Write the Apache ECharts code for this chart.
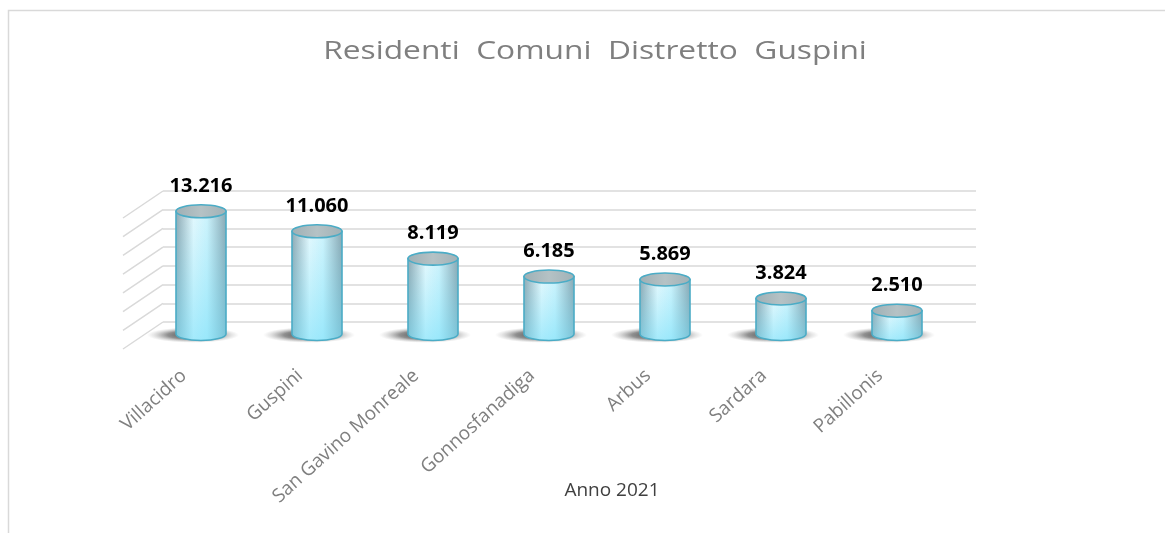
<!DOCTYPE html>
<html>
<head>
<meta charset="utf-8">
<script src="https://cdn.jsdelivr.net/npm/echarts@6/dist/echarts.min.js"></script>
<style>
  html, body { margin: 0; padding: 0; background: #fff; }
  #chart { width: 1165px; height: 533px; }
</style>
</head>
<body>
<div id="chart"></div>
<script>
const comuni = ['Villacidro', 'Guspini', 'San Gavino Monreale', 'Gonnosfanadiga', 'Arbus', 'Sardara', 'Pabillonis']
const residenti = [13216, 11060, 8119, 6185, 5869, 3824, 2510]
const yMax = 14000
const yStep = 2000

const chart = echarts.init(document.getElementById('chart'))

// numero con punto come separatore delle migliaia
const fmt = (v) => String(v).replace(/\B(?=(\d{3})+(?!\d))/g, '.')

const ellipsePath = (cx, cy, rx, ry) =>
  `M${cx - rx},${cy} A${rx},${ry} 0 1,0 ${cx + rx},${cy} A${rx},${ry} 0 1,0 ${cx - rx},${cy} Z`

const RX = 25
const RY = 6.5

const renderCylinder = (params, api) => {
  const base = api.coord([api.value(0), 0])
  const top = api.coord([api.value(0), api.value(1)])
  const cx = top[0]
  const by = base[1]
  const ty = top[1]
  const body = `M${cx - RX},${ty} L${cx - RX},${by} A${RX},${RY} 0 0,0 ${cx + RX},${by} L${cx + RX},${ty} Z`

  return {
    type: 'group',
    children: [
      {
        // ombra: cerchio schiacciato in verticale
        type: 'circle',
        shape: { cx: 0, cy: 0, r: 46 },
        x: cx - 8,
        y: by + 1,
        scaleY: 0.17,
        style: {
          fill: new echarts.graphic.RadialGradient(0.5, 0.5, 0.5, [
            { offset: 0, color: 'rgba(40, 40, 40, 0.9)' },
            { offset: 0.55, color: 'rgba(70, 70, 70, 0.6)' },
            { offset: 0.8, color: 'rgba(110, 110, 110, 0.25)' },
            { offset: 1, color: 'rgba(150, 150, 150, 0)' }
          ])
        }
      },
      {
        type: 'path',
        shape: { pathData: body },
        style: {
          fill: new echarts.graphic.LinearGradient(0, 0, 1, 0, [
            { offset: 0, color: '#8fa9b3' },
            { offset: 0.35, color: '#e3f8fd' },
            { offset: 0.62, color: '#cdf3fc' },
            { offset: 1, color: '#8aa7b2' }
          ])
        }
      },
      {
        type: 'path',
        shape: { pathData: body },
        style: {
          fill: new echarts.graphic.LinearGradient(0, 0, 0, 1, [
            { offset: 0, color: 'rgba(120, 225, 250, 0)' },
            { offset: 1, color: 'rgba(110, 222, 250, 0.55)' }
          ]),
          stroke: '#4bacc6',
          lineWidth: 1.6
        }
      },
      {
        type: 'path',
        shape: { pathData: ellipsePath(cx, ty, RX, RY) },
        style: {
          fill: new echarts.graphic.LinearGradient(0, 0, 1, 0, [
            { offset: 0, color: '#9eafb4' },
            { offset: 0.5, color: '#b5c2c5' },
            { offset: 1, color: '#a0b1b6' }
          ]),
          stroke: '#4bacc6',
          lineWidth: 1.6
        }
      },
      {
        type: 'text',
        x: cx,
        y: ty - 25,
        style: {
          text: fmt(api.value(1)),
          align: 'center',
          verticalAlign: 'middle',
          fontFamily: 'Open Sans',
          fontSize: 20,
          fontWeight: 'bold',
          fill: '#000'
        }
      }
    ]
  }
}

const option = {
  animation: false,
  grid: [
    { left: 163, right: 189, top: 191, bottom: 211 },
    { left: 143, right: 210, top: 204, bottom: 199 },
    { left: 126, right: 227, top: 204, bottom: 183 }
  ],
  xAxis: [
    { gridIndex: 0, type: 'category', data: comuni, show: false },
    { gridIndex: 1, type: 'category', data: comuni, show: false },
    {
      gridIndex: 2,
      type: 'category',
      data: comuni,
      axisLine: { show: false },
      axisTick: { show: false },
      axisLabel: {
        interval: 0,
        rotate: 42,
        margin: 23,
        fontFamily: 'Open Sans',
        fontSize: 19,
        color: '#7f7f7f'
      }
    }
  ],
  yAxis: [
    {
      gridIndex: 0,
      min: 0,
      max: yMax,
      interval: yStep,
      axisLine: { show: false },
      axisTick: { show: false },
      axisLabel: { show: false },
      splitLine: { lineStyle: { color: '#d9d9d9', width: 1.5 } }
    },
    { gridIndex: 1, min: 0, max: yMax, show: false, splitLine: { show: false } },
    { gridIndex: 2, min: 0, max: yMax, show: false, splitLine: { show: false } }
  ],
  series: [
    {
      type: 'custom',
      name: 'Residenti',
      xAxisIndex: 1,
      yAxisIndex: 1,
      data: residenti.map((v, i) => [i, v]),
      encode: { x: 0, y: 1 },
      renderItem: renderCylinder
    }
  ]
}

chart.setOption(option)

// parete laterale: linee oblique che partono dalle linee della griglia
const wallX = 163
const extra = []
for (let v = 0; v <= yMax; v += yStep) {
  const y = chart.convertToPixel({ yAxisIndex: 0 }, v)
  extra.push({
    type: 'line',
    shape: { x1: wallX, y1: y, x2: wallX - 40, y2: y + 27 },
    style: { stroke: '#d9d9d9', lineWidth: 1.5 },
    silent: true
  })
}
extra.push(
  {
    type: 'rect',
    shape: { x: 8.5, y: 10.5, width: 1400, height: 800 },
    style: { fill: 'none', stroke: '#d9d9d9', lineWidth: 1.5 },
    silent: true
  },
  {
    type: 'text',
    x: 595,
    y: 52,
    scaleX: 1.22,
    style: {
      text: 'Residenti  Comuni  Distretto  Guspini',
      align: 'center',
      verticalAlign: 'middle',
      fontFamily: 'Open Sans',
      fontSize: 26,
      fill: '#7f7f7f'
    }
  },
  {
    type: 'text',
    x: 612,
    y: 491,
    style: {
      text: 'Anno 2021',
      align: 'center',
      verticalAlign: 'middle',
      fontFamily: 'Open Sans',
      fontSize: 19,
      fill: '#404040'
    }
  }
)

chart.setOption({ graphic: extra })
</script>
</body>
</html>
